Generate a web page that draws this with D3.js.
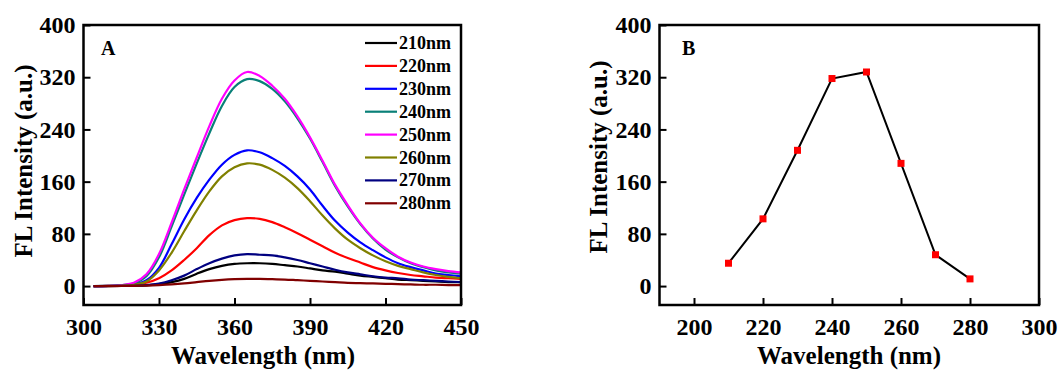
<!DOCTYPE html>
<html>
<head>
<meta charset="utf-8">
<script src="https://cdn.jsdelivr.net/npm/d3@7"></script>
<style>
  html, body { margin: 0; padding: 0; background: #fff; }
  svg text { font-family: 'Liberation Serif', 'Times New Roman', serif; font-weight: bold; fill: #000; }
</style>
</head>
<body>
<div id="chart"></div>
<script>
// panel A: emission spectra (x = emission wavelength, nm)
const wavelengths = [304, 310, 315, 320, 325, 330, 335, 340, 345, 350, 355, 360, 365, 370, 375,
  380, 385, 390, 395, 400, 405, 410, 415, 420, 425, 430, 435, 440, 445, 450];

const ex210 = [0, 0, 0.2, 0.5, 1, 3, 6, 11, 19, 26, 31, 34, 35, 35, 34, 32, 30, 27, 24, 22, 19, 16, 14, 12, 10, 9, 8, 7, 6, 6];
const ex220 = [0, 0.2, 0.5, 1.5, 5, 12, 24, 40, 58, 78, 93, 101, 104, 103, 98, 90, 81, 71, 61, 51, 43, 36, 29, 24, 20, 17, 15, 13, 12, 11];
const ex230 = [0, 0.2, 1, 3, 9, 28, 64, 102, 135, 163, 186, 201, 208, 205, 196, 184, 168, 148, 123, 100, 82, 67, 55, 44, 35, 29, 24, 19, 17, 15];
const ex240 = [0, 0.2, 1.5, 4, 15, 44, 91, 140, 188, 234, 276, 305, 317, 314, 302, 283, 257, 226, 190, 153, 122, 95, 73, 56, 44, 35, 29, 24, 21, 19];
const ex250 = [0, 0.3, 1.5, 5, 18, 49, 97, 148, 197, 245, 287, 315, 328, 322, 307, 287, 260, 228, 192, 155, 124, 96, 74, 58, 45, 36, 30, 26, 23, 21];
const ex260 = [0, 0.2, 0.8, 2, 7, 24, 51, 84, 116, 145, 168, 182, 188, 186, 178, 166, 150, 130, 108, 88, 71, 58, 47, 38, 31, 26, 21, 17, 14, 12];
const ex270 = [0, 0.1, 0.3, 0.5, 1.5, 4, 9, 16, 26, 35, 42, 47, 49, 48, 47, 44, 40, 35, 30, 25, 21, 18, 15, 13, 12, 10, 9, 8, 7, 6];
const ex280 = [0, 0, 0.1, 0.3, 0.8, 1.5, 2.5, 4, 6, 8, 9.5, 10.5, 11, 11, 10.5, 10, 9, 8, 7, 6, 5, 4.5, 4, 3.5, 3, 2.5, 2, 2, 1.5, 1.5];

const seriesNames = ['210nm', '220nm', '230nm', '240nm', '250nm', '260nm', '270nm', '280nm'];
const seriesValues = [ex210, ex220, ex230, ex240, ex250, ex260, ex270, ex280];
const seriesColors = ['#000000', '#ff0000', '#0000ff', '#0a8078', '#ff00ff', '#808000', '#000080', '#800000'];

// panel B: peak intensity vs excitation wavelength
const excitation = [210, 220, 230, 240, 250, 260, 270, 280];
const peakIntensity = [35, 103, 208, 318, 328, 188, 48, 11];

const yTicks = [0, 80, 160, 240, 320, 400];
const xTicksA = [300, 330, 360, 390, 420, 450];
const xTicksB = [200, 220, 240, 260, 280, 300];

const svg = d3.select('#chart').append('svg')
  .attr('width', 1059)
  .attr('height', 370);

const plotTop = 25, plotBottom = 305;
const y = d3.scaleLinear().domain([-29, 400]).range([plotBottom, plotTop]);

function drawAxes(left, right, x, xTicks, titleX, yTitleX, yTitleY, letter, letterX) {
  const g = svg.append('g');
  g.append('g')
    .attr('transform', `translate(0,${plotBottom})`)
    .call(d3.axisBottom(x).tickValues(xTicks).tickSize(-7).tickSizeOuter(0).tickPadding(13))
    .call((a) => a.select('.domain').remove())
    .call((a) => a.selectAll('line').attr('stroke-width', 2))
    .call((a) => a.selectAll('text').style('font-size', '24px'));

  g.append('g')
    .attr('transform', `translate(${left},0)`)
    .call(d3.axisLeft(y).tickValues(yTicks).tickSize(-7).tickSizeOuter(0).tickPadding(8))
    .call((a) => a.select('.domain').remove())
    .call((a) => a.selectAll('line').attr('stroke-width', 2))
    .call((a) => a.selectAll('text').style('font-size', '24px'));

  g.append('rect')
    .attr('x', left)
    .attr('y', plotTop)
    .attr('width', right - left)
    .attr('height', plotBottom - plotTop)
    .attr('fill', 'none')
    .attr('stroke', '#000')
    .attr('stroke-width', 2.5);

  g.append('text')
    .attr('x', titleX)
    .attr('y', 364)
    .attr('text-anchor', 'middle')
    .style('font-size', '25px')
    .text('Wavelength (nm)');

  g.append('text')
    .attr('transform', `translate(${yTitleX},${yTitleY}) rotate(-90)`)
    .attr('text-anchor', 'middle')
    .style('font-size', '25px')
    .text('FL Intensity (a.u.)');

  g.append('text')
    .attr('x', letterX)
    .attr('y', 55)
    .style('font-size', '20px')
    .text(letter);
}

// ---- panel A ----
const leftA = 83.5, rightA = 461;
const xA = d3.scaleLinear().domain([300, 450]).range([leftA, rightA]);

svg.append('clipPath').attr('id', 'clipA')
  .append('rect')
  .attr('x', leftA).attr('y', plotTop)
  .attr('width', rightA - leftA).attr('height', plotBottom - plotTop);

const lineA = d3.line()
  .x((d) => xA(d[0]))
  .y((d) => y(d[1]))
  .curve(d3.curveCatmullRom.alpha(0.5));

svg.append('g')
  .attr('clip-path', 'url(#clipA)')
  .selectAll('path')
  .data(seriesValues)
  .enter()
  .append('path')
  .attr('d', (vals) => lineA(wavelengths.map((w, i) => [w, vals[i]])))
  .attr('fill', 'none')
  .attr('stroke', (d, i) => seriesColors[i])
  .attr('stroke-width', 2.2);

drawAxes(leftA, rightA, xA, xTicksA, 263, 32, 161, 'A', 101);

// legend
const legend = svg.append('g');
seriesNames.forEach((name, i) => {
  const cy = 43 + i * 22.9;
  legend.append('line')
    .attr('x1', 365).attr('x2', 397)
    .attr('y1', cy).attr('y2', cy)
    .attr('stroke', seriesColors[i])
    .attr('stroke-width', 2.2);
  legend.append('text')
    .attr('x', 399)
    .attr('y', cy + 6)
    .style('font-size', '18px')
    .text(name);
});

// ---- panel B ----
const leftB = 659.5, rightB = 1039;
const xB = d3.scaleLinear().domain([190, 300]).range([leftB, rightB]);

svg.append('path')
  .datum(excitation.map((w, i) => [w, peakIntensity[i]]))
  .attr('d', d3.line().x((d) => xB(d[0])).y((d) => y(d[1])))
  .attr('fill', 'none')
  .attr('stroke', '#000')
  .attr('stroke-width', 2);

svg.selectAll('.marker')
  .data(excitation)
  .enter()
  .append('rect')
  .attr('class', 'marker')
  .attr('x', (d) => xB(d) - 3.5)
  .attr('y', (d, i) => y(peakIntensity[i]) - 3.5)
  .attr('width', 7)
  .attr('height', 7)
  .attr('fill', '#ff0000');

drawAxes(leftB, rightB, xB, xTicksB, 849, 607, 157, 'B', 682);
</script>
</body>
</html>
